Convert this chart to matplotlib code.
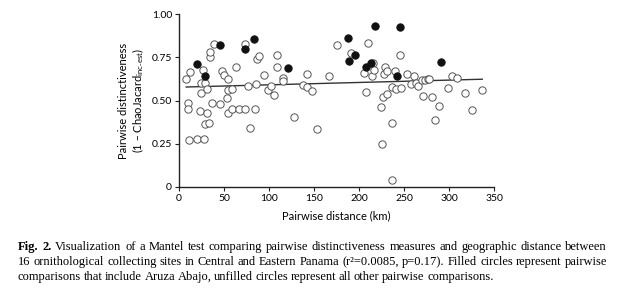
import matplotlib
matplotlib.use("Agg")
import matplotlib.pyplot as plt
import numpy as np

# pairwise comparisons that include Aruza Abajo (filled circles)
filled_dist = [19.6, 29.0, 45.6, 73.5, 83.5, 120.7, 187.4, 189.3, 195.8, 207.6,
               212.8, 218.0, 245.6, 242.2, 291.0]
filled_dist_val = [0.711, 0.642, 0.823, 0.800, 0.853, 0.686, 0.862, 0.731, 0.761, 0.692,
                   0.715, 0.932, 0.922, 0.642, 0.720]

# all other pairwise comparisons (unfilled circles)
open_dist = [8.0, 12.0, 26.5, 24.7, 28.5, 24.8, 31.0, 33.9, 34.3, 39.0,
             48.2, 50.3, 54.5, 54.0, 58.5, 53.0, 36.5, 45.9, 62.8, 73.2,
             86.3, 89.2, 76.3, 85.0, 94.8, 99.0, 102.5, 105.8, 108.9, 108.5,
             115.5, 115.0, 142.4, 137.8, 142.6, 148.1, 166.2, 176.0, 191.5, 10.4,
             9.6, 23.0, 30.7, 54.1, 59.3, 67.0, 73.7, 84.8, 28.5, 33.0,
             78.9, 127.8, 153.0, 10.8, 20.0, 27.8, 210.2, 246.0, 216.0, 205.2,
             214.4, 217.2, 228.1, 228.9, 231.5, 240.2, 253.0, 261.1, 258.2, 262.8,
             266.0, 269.6, 273.3, 276.7, 278.1, 303.7, 309.3, 236.3, 241.1, 247.0,
             207.6, 227.0, 231.0, 270.8, 280.8, 299.2, 318.0, 336.5, 224.8, 288.5,
             325.6, 236.3, 284.8, 225.9, 236.3]
open_val = [0.624, 0.664, 0.678, 0.602, 0.604, 0.544, 0.565, 0.753, 0.783, 0.825,
            0.669, 0.645, 0.624, 0.561, 0.565, 0.514, 0.484, 0.482, 0.695, 0.825,
            0.738, 0.757, 0.581, 0.597, 0.645, 0.561, 0.581, 0.529, 0.765, 0.695,
            0.631, 0.611, 0.654, 0.588, 0.576, 0.557, 0.642, 0.820, 0.775, 0.487,
            0.451, 0.439, 0.428, 0.426, 0.451, 0.451, 0.451, 0.451, 0.366, 0.370,
            0.341, 0.405, 0.337, 0.270, 0.279, 0.277, 0.831, 0.762, 0.715, 0.658,
            0.644, 0.678, 0.653, 0.694, 0.671, 0.670, 0.655, 0.642, 0.597, 0.600,
            0.585, 0.618, 0.618, 0.622, 0.622, 0.640, 0.629, 0.580, 0.568, 0.571,
            0.547, 0.519, 0.539, 0.528, 0.521, 0.571, 0.541, 0.561, 0.462, 0.466,
            0.446, 0.370, 0.389, 0.247, 0.039]

# regression line end points
fit_x = [8, 337]
fit_y = [0.578, 0.623]

x_ticks = [0, 50, 100, 150, 200, 250, 300, 350]
y_ticks = [0, 0.25, 0.50, 0.75, 1.00]
y_ticklabels = ["0", "0.25", "0.50", "0.75", "1.00"]

caption = [
    "Fig. 2. Visualization of a Mantel test comparing pairwise distinctiveness measures and geographic distance between",
    "16 ornithological collecting sites in Central and Eastern Panama (r\u00b2=0.0085, p=0.17). Filled circles represent pairwise",
    "comparisons that include Aruza Abajo, unfilled circles represent all other pairwise comparisons.",
]

plt.rcParams['font.family'] = ['Lato', 'DejaVu Sans']

fig = plt.figure(figsize=(6.25, 2.94), dpi=100)
ax = fig.add_axes([179 / 625, 1 - 187 / 294, 315 / 625, 173 / 294])

ax.plot(fit_x, fit_y, color='#333333', lw=1.0, zorder=1)
ax.scatter(open_dist, open_val, s=28, facecolors='white', edgecolors='#555555',
           linewidths=0.7, zorder=2)
ax.scatter(filled_dist, filled_dist_val, s=28, facecolors='#111111', edgecolors='#111111',
           linewidths=0.7, zorder=3)

ax.set_xlim(0, 350)
ax.set_ylim(0, 1.0)
ax.set_xticks(x_ticks)
ax.set_yticks(y_ticks)
ax.set_yticklabels(y_ticklabels)
ax.tick_params(labelsize=7.5, length=3, width=0.8, color='#222222', pad=2)
for side in ['top', 'right']:
    ax.spines[side].set_visible(False)
for side in ['left', 'bottom']:
    ax.spines[side].set_linewidth(1.0)
    ax.spines[side].set_color('#222222')
ax.patch.set_alpha(0)

ax.set_xlabel("Pairwise distance (km)", fontsize=8, labelpad=5)
ax.set_ylabel("Pairwise distinctiveness\n(1 \u2013 ChaoJacard$_{\\mathregular{inc\u2011est}}$)",
              fontsize=8, labelpad=4, linespacing=1.1)

# justified caption in a serif face
renderer = fig.canvas.get_renderer()
cap_font = ['Liberation Serif', 'DejaVu Serif']
x0, x1 = 18 / 625, 607 / 625
line_y = [1 - 247 / 294, 1 - 262 / 294, 1 - 277 / 294]
for i, line in enumerate(caption):
    words = line.split(" ")
    texts = []
    for j, w in enumerate(words):
        bold = (i == 0 and j < 2)
        t = fig.text(0, line_y[i], w, fontsize=9.0, family=cap_font,
                     fontweight='bold' if bold else 'normal', va='center', ha='left')
        texts.append(t)
    widths = [t.get_window_extent(renderer).width / fig.bbox.width for t in texts]
    if i < len(caption) - 1:
        gap = (x1 - x0 - sum(widths)) / (len(words) - 1)
    else:
        gap = 2.5 / 625
    xpos = x0
    for t, w in zip(texts, widths):
        t.set_x(xpos)
        xpos += w + gap

fig.savefig("out.png", dpi=100)
